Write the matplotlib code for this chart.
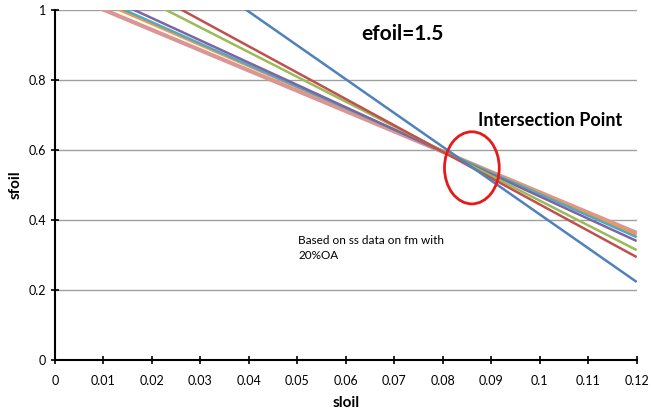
import numpy as np
import matplotlib.pyplot as plt
from matplotlib import rcParams
from matplotlib.patches import Ellipse

rcParams['font.family'] = ['Lato', 'DejaVu Sans']

# sloil endpoints and sfoil values of each straight series at those points
sloil = [0.0, 0.12]
sfoil_blue = [1.381, 0.223]
sfoil_red = [1.197, 0.294]
sfoil_green = [1.162, 0.314]
sfoil_purple = [1.104, 0.340]
sfoil_cyan = [1.088, 0.351]
sfoil_orange = [1.080, 0.357]
sfoil_pink = [1.059, 0.363]

series = [
    (sfoil_pink, '#D99694', 3.0),
    (sfoil_orange, '#F79646', 1.8),
    (sfoil_cyan, '#4BACC6', 1.8),
    (sfoil_purple, '#8064A2', 1.8),
    (sfoil_green, '#9BBB59', 1.8),
    (sfoil_red, '#C0504D', 1.8),
    (sfoil_blue, '#4F81BD', 1.8),
]

fig = plt.figure(figsize=(6.51, 4.15), dpi=100)
ax = fig.add_axes([0.0845, 0.1325, 0.8935, 0.8435])

for values, color, lw in series:
    ax.plot(sloil, values, color=color, linewidth=lw, solid_capstyle='butt')

ax.set_xlim(0, 0.12)
ax.set_ylim(0, 1)
ax.set_xticks(np.arange(0, 0.121, 0.01))
ax.set_xticklabels(['0', '0.01', '0.02', '0.03', '0.04', '0.05', '0.06', '0.07',
                    '0.08', '0.09', '0.1', '0.11', '0.12'])
ax.set_yticks([0, 0.2, 0.4, 0.6, 0.8, 1.0])
ax.set_yticklabels(['0', '0.2', '0.4', '0.6', '0.8', '1'])
ax.tick_params(labelsize=9, width=1.2)
ax.tick_params(axis='x', direction='inout', length=6, pad=8)
ax.tick_params(axis='y', direction='inout', length=6)
ax.grid(axis='y', color='#A0A0A0', linewidth=1)
ax.set_axisbelow(True)
for side in ['top', 'right']:
    ax.spines[side].set_visible(False)
for side in ['left', 'bottom']:
    ax.spines[side].set_linewidth(1.5)

ax.set_xlabel('sloil', fontsize=11, fontweight='bold', labelpad=6)
ax.set_ylabel('sfoil', fontsize=11, fontweight='bold', labelpad=4)

ax.text(0.0632, 0.93, 'efoil=1.5', fontsize=15, fontweight='bold', va='center')
ax.text(0.0872, 0.685, 'Intersection Point', fontsize=13, fontweight='bold', va='center')
ax.text(0.0502, 0.32, 'Based on ss data on fm with\n20%OA', fontsize=8.5, va='center',
        linespacing=1.45)

ax.add_patch(Ellipse((0.086, 0.549), 0.0113, 0.206, fill=False, edgecolor='#E51A1A',
                     linewidth=2, zorder=5))

fig.savefig('out.png', dpi=100)
